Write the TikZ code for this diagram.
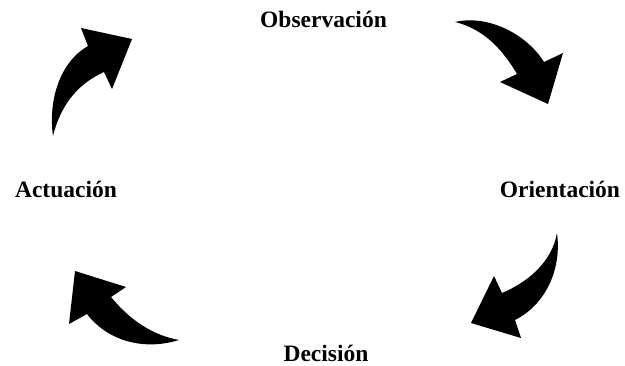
\documentclass[tikz,border=0pt]{standalone}
\usepackage{fontspec}
\setmainfont{Liberation Serif}
\begin{document}
\begin{tikzpicture}[x=1pt,y=-1pt,
  lbl/.style={anchor=base,inner sep=0pt,font=\fontsize{23.5}{26}\selectfont\bfseries},
  bigarrow/.style={fill=black,draw=none}]
\useasboundingbox (0,0) rectangle (625,365);
% labels
\node[lbl] (obs) at (323.5,27.3) {Observación};
\node[lbl] (ori) at (560,197.3) {Orientación};
\node[lbl] (dec) at (326,361) {Decisión};
\node[lbl] (act) at (66,197.3) {Actuación};
% arrow: Observación -> Orientación
\fill[bigarrow] (455,22) .. controls (490,14) and (528,36) .. (544,62)
  -- (563,53) -- (548,104) -- (500,82) -- (517,74)
  .. controls (500,45) and (480,28) .. (455,22) -- cycle;
% arrow: Orientación -> Decisión
\fill[bigarrow] (557,233) .. controls (562,270) and (545,305) .. (515,320)
  -- (521,338) -- (471,323) -- (494,276) -- (502,293)
  .. controls (528,282) and (552,262) .. (557,233) -- cycle;
% arrow: Decisión -> Actuación
\fill[bigarrow] (179,340) .. controls (140,352) and (105,338) .. (87,314)
  -- (69,324) -- (75,271) -- (126,287) -- (111,297)
  .. controls (130,320) and (152,335) .. (179,340) -- cycle;
% arrow: Actuación -> Observación
\fill[bigarrow] (53,136) .. controls (48,100) and (60,62) .. (88,46)
  -- (81,28) -- (132,39) -- (112,89) -- (104,72)
  .. controls (82,82) and (62,100) .. (53,136) -- cycle;
\end{tikzpicture}
\end{document}
